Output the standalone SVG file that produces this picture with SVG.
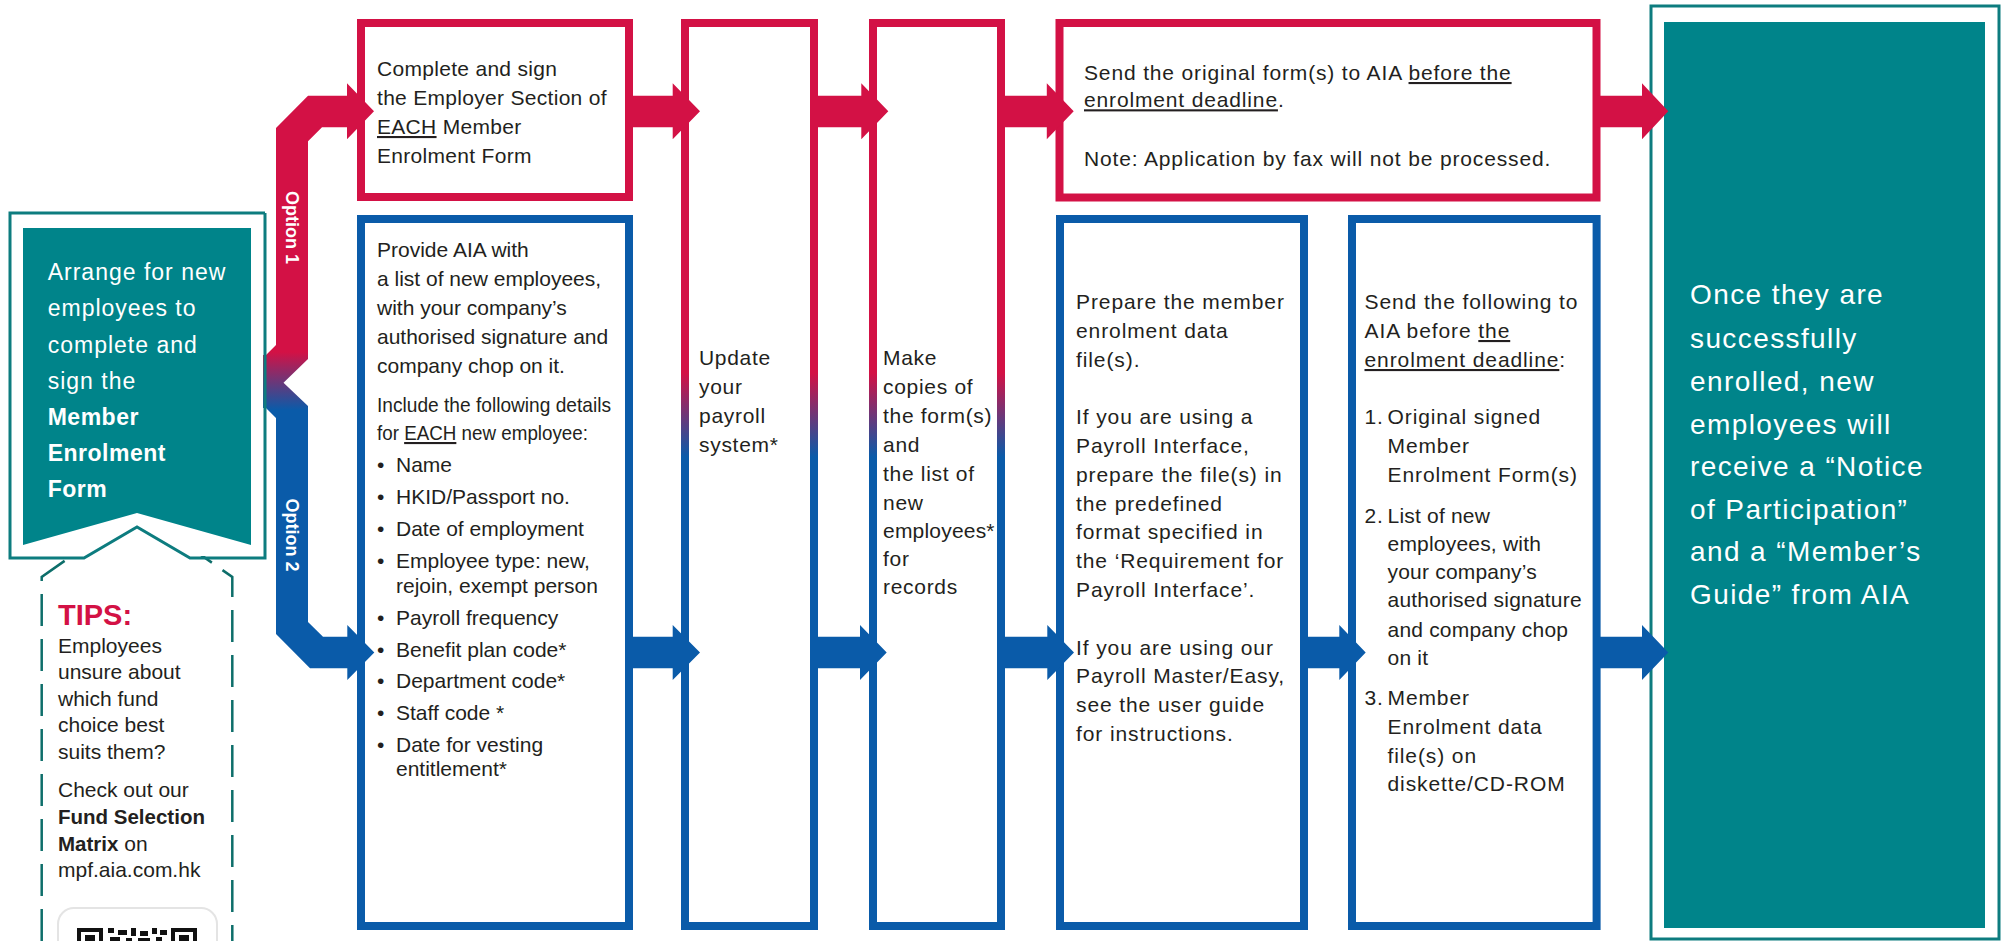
<svg xmlns="http://www.w3.org/2000/svg" width="2003" height="941" viewBox="0 0 2003 941">
<defs>
<style>
.t{font-family:"Liberation Sans",Arial,sans-serif;font-size:21px;fill:#231f20}
.tw{font-family:"Liberation Sans",Arial,sans-serif;fill:#fff}
.b{font-weight:700}
.u{text-decoration:underline}
.red{fill:none;stroke:#d31145;stroke-width:8}
.blue{fill:none;stroke:#0a5ba9;stroke-width:8}
.col{fill:none;stroke:url(#colgrad);stroke-width:8}
.rough{fill:none;stroke:#0d7c7f;stroke-width:3}
.fillteal{fill:#00848a}
</style>
<linearGradient id="colgrad" gradientUnits="userSpaceOnUse" x1="0" y1="373" x2="0" y2="457">
<stop offset="0" stop-color="#d31145"/>
<stop offset="1" stop-color="#0a5ba9"/>
</linearGradient>
<linearGradient id="optgrad" gradientUnits="userSpaceOnUse" x1="0" y1="352" x2="0" y2="410">
<stop offset="0" stop-color="#d31145"/>
<stop offset="1" stop-color="#0a5ba9"/>
</linearGradient>
</defs>
<rect width="2003" height="941" fill="#fff"/>

<!-- TIPS box -->
<g id="tips">
<polyline points="41.7,941 41.7,577 137,510 232.3,577 232.3,941" fill="none" stroke="#0d6e6a" stroke-width="2.5" stroke-dasharray="32 13"/>
<text class="t b" x="58" y="625" style="font-size:29px;fill:#d31145">TIPS:</text>
<text class="t" x="58" y="652.7">Employees</text>
<text class="t" x="58" y="679.3">unsure about</text>
<text class="t" x="58" y="705.7">which fund</text>
<text class="t" x="58" y="732.3">choice best</text>
<text class="t" x="58" y="759.3">suits them?</text>
<text class="t" x="58" y="796.7">Check out our</text>
<text class="t b" x="58" y="824" style="font-size:20.5px">Fund Selection</text>
<text class="t" x="58" y="850.7"><tspan class="b" style="font-size:20.5px">Matrix</tspan> on</text>
<text class="t" x="58" y="877.3">mpf.aia.com.hk</text>
<rect x="58" y="908" width="159" height="60" rx="16" fill="#fff" stroke="#e4e4e4" stroke-width="2"/>
<g fill="#111">
<rect x="77" y="928" width="26" height="4"/><rect x="77" y="928" width="4" height="13"/><rect x="99" y="928" width="4" height="13"/><rect x="85" y="935" width="10" height="6"/>
<rect x="171" y="928" width="26" height="4"/><rect x="171" y="928" width="4" height="13"/><rect x="193" y="928" width="4" height="13"/><rect x="179" y="935" width="10" height="6"/>
<rect x="108" y="928" width="6" height="5"/><rect x="118" y="930" width="9" height="5"/><rect x="131" y="928" width="5" height="8"/><rect x="140" y="931" width="8" height="5"/><rect x="152" y="928" width="5" height="6"/><rect x="160" y="930" width="7" height="5"/>
<rect x="110" y="937" width="10" height="4"/><rect x="126" y="938" width="6" height="3"/><rect x="138" y="938" width="12" height="3"/><rect x="156" y="937" width="6" height="4"/>
</g>
</g>

<!-- Option 1 boxes -->
<g id="complete-sign">
<rect class="red" x="361" y="23" width="268" height="174"/>
<text class="t" x="377" y="76" letter-spacing="0.3">Complete and sign</text>
<text class="t" x="377" y="105" letter-spacing="0.3">the Employer Section of</text>
<text class="t" x="377" y="134" letter-spacing="0.3"><tspan class="u">EACH</tspan> Member</text>
<text class="t" x="377" y="163" letter-spacing="0.3">Enrolment Form</text>
</g>

<g id="provide-list">
<rect class="blue" x="361" y="219" width="268" height="707"/>
<text class="t" x="377" y="256.7">Provide AIA with</text>
<text class="t" x="377" y="286">a list of new employees,</text>
<text class="t" x="377" y="315">with your company’s</text>
<text class="t" x="377" y="344">authorised signature and</text>
<text class="t" x="377" y="372.7">company chop on it.</text>
<text class="t" x="377" y="411.7" textLength="234" lengthAdjust="spacingAndGlyphs">Include the following details</text>
<text class="t" x="377" y="440" textLength="211" lengthAdjust="spacingAndGlyphs">for <tspan class="u">EACH</tspan> new employee:</text>
<g class="t">
<text class="t" x="377" y="471.7">•</text><text class="t" x="396" y="471.7">Name</text>
<text class="t" x="377" y="504">•</text><text class="t" x="396" y="504">HKID/Passport no.</text>
<text class="t" x="377" y="536">•</text><text class="t" x="396" y="536">Date of employment</text>
<text class="t" x="377" y="568">•</text><text class="t" x="396" y="568">Employee type: new,</text>
<text class="t" x="396" y="592.7">rejoin, exempt person</text>
<text class="t" x="377" y="625">•</text><text class="t" x="396" y="625">Payroll frequency</text>
<text class="t" x="377" y="656.7">•</text><text class="t" x="396" y="656.7">Benefit plan code*</text>
<text class="t" x="377" y="688">•</text><text class="t" x="396" y="688">Department code*</text>
<text class="t" x="377" y="720">•</text><text class="t" x="396" y="720">Staff code *</text>
<text class="t" x="377" y="751.7">•</text><text class="t" x="396" y="751.7">Date for vesting</text>
<text class="t" x="396" y="776">entitlement*</text>
</g>
</g>

<g id="update-payroll">
<rect class="col" x="685" y="23" width="129" height="903"/>
<text class="t" x="699" y="365" letter-spacing="0.7">Update</text>
<text class="t" x="699" y="394" letter-spacing="0.7">your</text>
<text class="t" x="699" y="423" letter-spacing="0.7">payroll</text>
<text class="t" x="699" y="452" letter-spacing="0.7">system*</text>
</g>

<g id="make-copies">
<rect class="col" x="873" y="23" width="128" height="903"/>
<text class="t" x="883" y="365" letter-spacing="0.7">Make</text>
<text class="t" x="883" y="394" letter-spacing="0.7">copies of</text>
<text class="t" x="883" y="423" letter-spacing="0.7">the form(s)</text>
<text class="t" x="883" y="452" letter-spacing="0.7">and</text>
<text class="t" x="883" y="481" letter-spacing="0.7">the list of</text>
<text class="t" x="883" y="509.5" letter-spacing="0.7">new</text>
<text class="t" x="883" y="538" letter-spacing="0.2">employees*</text>
<text class="t" x="883" y="566" letter-spacing="0.7">for</text>
<text class="t" x="883" y="594" letter-spacing="0.7">records</text>
</g>

<g id="send-original">
<rect class="red" x="1059.5" y="23" width="537" height="174.5"/>
<text class="t" x="1084" y="80" letter-spacing="0.85">Send the original form(s) to AIA <tspan class="u">before the</tspan></text>
<text class="t" x="1084" y="107.3" letter-spacing="0.85"><tspan class="u">enrolment deadline</tspan>.</text>
<text class="t" x="1084" y="165.7" letter-spacing="0.85">Note: Application by fax will not be processed.</text>
</g>

<g id="prepare-file">
<rect class="blue" x="1060" y="219" width="244" height="707"/>
<g class="t" letter-spacing="0.9">
<text class="t" x="1076" y="309.3">Prepare the member</text>
<text class="t" x="1076" y="338">enrolment data</text>
<text class="t" x="1076" y="366.7">file(s).</text>
<text class="t" x="1076" y="424">If you are using a</text>
<text class="t" x="1076" y="452.7">Payroll Interface,</text>
<text class="t" x="1076" y="481.7">prepare the file(s) in</text>
<text class="t" x="1076" y="510.7">the predefined</text>
<text class="t" x="1076" y="539.3">format specified in</text>
<text class="t" x="1076" y="568.3">the ‘Requirement for</text>
<text class="t" x="1076" y="596.7">Payroll Interface’.</text>
<text class="t" x="1076" y="655">If you are using our</text>
<text class="t" x="1076" y="683.3">Payroll Master/Easy,</text>
<text class="t" x="1076" y="712.3">see the user guide</text>
<text class="t" x="1076" y="740.7">for instructions.</text>
</g>
</g>

<g id="send-following">
<rect class="blue" x="1352" y="219" width="244.6" height="707"/>
<g class="t" letter-spacing="0.9">
<text class="t" x="1364.5" y="309.3">Send the following to</text>
<text class="t" x="1364.5" y="338">AIA before <tspan class="u">the</tspan></text>
<text class="t" x="1364.5" y="367"><tspan class="u">enrolment deadline</tspan>:</text>
<text class="t" x="1364.5" y="424">1.</text><text class="t" x="1387.5" y="424">Original signed</text>
<text class="t" x="1387.5" y="452.7">Member</text>
<text class="t" x="1387.5" y="481.7">Enrolment Form(s)</text>
<text class="t" x="1364.5" y="522.7">2.</text><text class="t" x="1387.5" y="522.7" letter-spacing="0.2">List of new</text>
<text class="t" x="1387.5" y="550.7" letter-spacing="0.2">employees, with</text>
<text class="t" x="1387.5" y="579.3" letter-spacing="0.2">your company’s</text>
<text class="t" x="1387.5" y="607.3" letter-spacing="0.2">authorised signature</text>
<text class="t" x="1387.5" y="636.7" letter-spacing="0.2">and company chop</text>
<text class="t" x="1387.5" y="665" letter-spacing="0.2">on it</text>
<text class="t" x="1364.5" y="705">3.</text><text class="t" x="1387.5" y="705">Member</text>
<text class="t" x="1387.5" y="734">Enrolment data</text>
<text class="t" x="1387.5" y="762.7">file(s) on</text>
<text class="t" x="1387.5" y="791">diskette/CD-ROM</text>
</g>
</g>

<g id="result">
<rect class="rough" x="1651" y="6" width="348" height="933"/>
<rect class="fillteal" x="1664" y="22" width="321" height="906"/>
<g class="tw" style="font-size:28px" letter-spacing="1.4">
<text class="tw" x="1690" y="304" style="font-size:28px">Once they are</text>
<text class="tw" x="1690" y="347.5" style="font-size:28px">successfully</text>
<text class="tw" x="1690" y="390.5" style="font-size:28px">enrolled, new</text>
<text class="tw" x="1690" y="433.5" style="font-size:28px">employees will</text>
<text class="tw" x="1690" y="476" style="font-size:28px">receive a “Notice</text>
<text class="tw" x="1690" y="518.5" style="font-size:28px">of Participation”</text>
<text class="tw" x="1690" y="561" style="font-size:28px">and a “Member’s</text>
<text class="tw" x="1690" y="603.5" style="font-size:28px">Guide” from AIA</text>
</g>
</g>

<!-- connectors -->
<g id="connectors">
<polygon fill="url(#optgrad)" points="308,95.7 347,95.7 347,83.3 374,111.3 347,139.3 347,127.3 322,127.3 308,141.3 308,359 283.5,382.7 308,406 308,622 323,636.7 347.3,636.7 347.3,625 374.3,652.5 347.3,680 347.3,668.3 310,668.3 276,634 276,418 266,408 240,408 240,355 266,355 276,345 276,128"/>
<g fill="#d31145">
<polygon points="630,95.7 672.7,95.7 672.7,83.3 700,111.3 672.7,139.3 672.7,127.3 630,127.3"/>
<polygon points="815,95.7 861.3,95.7 861.3,83.3 888.3,111.3 861.3,139.3 861.3,127.3 815,127.3"/>
<polygon points="1002,95.7 1046.8,95.7 1046.8,83.3 1073.7,111.3 1046.8,139.3 1046.8,127.3 1002,127.3"/>
<polygon points="1597,95.7 1642,95.7 1642,83.3 1668.3,111.3 1642,139.3 1642,127.3 1597,127.3"/>
</g>
<g fill="#0a5ba9">
<polygon points="630,636.7 672.7,636.7 672.7,625 700,652.5 672.7,680 672.7,668.3 630,668.3"/>
<polygon points="815,636.7 860,636.7 860,625 886.7,652.5 860,680 860,668.3 815,668.3"/>
<polygon points="1002,636.7 1047.3,636.7 1047.3,625 1074,652.5 1047.3,680 1047.3,668.3 1002,668.3"/>
<polygon points="1305,636.7 1339.3,636.7 1339.3,625 1365.7,652.5 1339.3,680 1339.3,668.3 1305,668.3"/>
<polygon points="1597,636.7 1642,636.7 1642,625 1668.3,652.5 1642,680 1642,668.3 1597,668.3"/>
</g>
<text class="tw b" transform="translate(285.5,227.5) rotate(90)" text-anchor="middle" style="font-size:18px">Option 1</text>
<text class="tw b" transform="translate(285.5,535) rotate(90)" text-anchor="middle" style="font-size:18px">Option 2</text>
</g>

<!-- start node (drawn over the connector band) -->
<g id="start">
<polygon points="10,213 265,213 265,558 10,558" fill="none"/>
<polygon points="12,215 263,215 263,556 190,556 137,522 84,556 12,556" fill="#fff" opacity="0"/>
<polygon points="12,215 248,215 248,352 263,352 263,556 190,556 137,525 84,556 12,556" fill="#fff"/>
<polygon points="23,228 251,228 251,545 137,513 23,545" class="fillteal"/>
<polyline points="265,213 10,213 10,558 84,558 137,527 190,558 265,558 265,213" class="rough"/>
<g style="font-size:23px" letter-spacing="1">
<text class="tw" x="47.7" y="280" style="font-size:23px">Arrange for new</text>
<text class="tw" x="47.7" y="316" style="font-size:23px">employees to</text>
<text class="tw" x="47.7" y="352.5" style="font-size:23px">complete and</text>
<text class="tw" x="47.7" y="388.5" style="font-size:23px">sign the</text>
<text class="tw b" x="47.7" y="425" style="font-size:23px" letter-spacing="0.5">Member</text>
<text class="tw b" x="47.7" y="461" style="font-size:23px" letter-spacing="0.5">Enrolment</text>
<text class="tw b" x="47.7" y="497" style="font-size:23px" letter-spacing="0.5">Form</text>
</g>
</g>
</svg>
